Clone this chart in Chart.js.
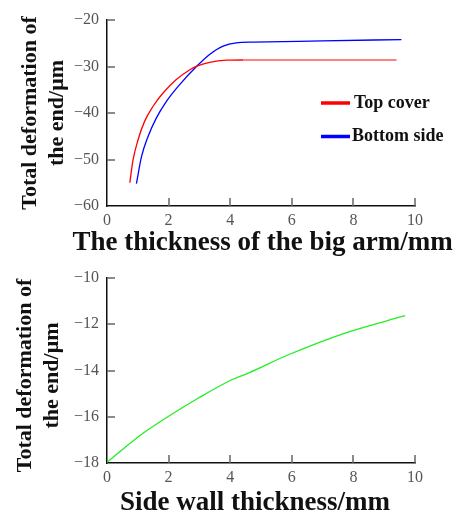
<!DOCTYPE html>
<html>
<head>
<meta charset="utf-8">
<script src="https://cdn.jsdelivr.net/npm/chart.js@4"></script>
<style>
  html, body { margin: 0; padding: 0; background: #fff; }
  #wrap { position: relative; width: 461px; height: 516px; }
  #top { position: absolute; left: 0; top: 0; }
  #bottom { position: absolute; left: 0; top: 250px; }
</style>
</head>
<body>
<div id="wrap">
  <canvas id="top" width="461" height="262"></canvas>
  <canvas id="bottom" width="461" height="266"></canvas>
</div>
<script>
// top chart - big arm thickness
const topCoverX = [0.74, 0.845, 1.006, 1.22, 1.49, 1.82, 2.25, 2.69, 2.92, 3.33, 3.88, 4.42, 6, 8, 9.4];
const topCoverY = [-55, -50.1, -45.8, -41.8, -38.6, -35.7, -32.8, -30.7, -29.9, -29.1, -28.65, -28.6, -28.6, -28.6, -28.6];
const bottomSideX = [0.955, 1.12, 1.33, 1.6, 1.93, 2.36, 2.92, 3.33, 3.77, 4.2, 4.74, 7, 9.56];
const bottomSideY = [-55.2, -49.4, -45.1, -41.1, -37.5, -33.9, -29.9, -27.4, -25.6, -24.9, -24.75, -24.5, -24.2];
const topYTicks = [-60, -50, -40, -30, -20];

// bottom chart - side wall thickness
const sideWallX = [0.0, 1.03, 2.0, 2.97, 4.05, 4.59, 5.89, 7.73, 9.68];
const sideWallY = [-17.97, -16.85, -15.98, -15.19, -14.4, -14.11, -13.32, -12.38, -11.63];
const bottomYTicks = [-18, -16, -14, -12, -10];

const xTicks = [0, 2, 4, 6, 8, 10];

function pts(xs, ys) {
    return xs.map((x, i) => ({x: x, y: ys[i]}));
}

const serif = "'Liberation Serif', 'Times New Roman', serif";

// ticks drawn inside the plot area
const innerTicks = {
    id: "innerTicks",
    afterDraw(chart) {
        const ctx = chart.ctx;
        const a = chart.chartArea;
        const xs = chart.scales.x, ys = chart.scales.y;
        ctx.save();
        ctx.strokeStyle = "#666";
        ctx.lineWidth = 1.5;
        ctx.beginPath();
        xs.ticks.forEach(t => {
            if (t.value === xs.min) return;
            const px = Math.round(xs.getPixelForValue(t.value));
            ctx.moveTo(px, a.bottom);
            ctx.lineTo(px, a.bottom - 8);
        });
        ys.ticks.forEach(t => {
            if (t.value === ys.min) return;
            const py = Math.round(ys.getPixelForValue(t.value));
            ctx.moveTo(a.left, py);
            ctx.lineTo(a.left + 8, py);
        });
        ctx.stroke();
        ctx.restore();
    }
};

// axis titles, placed like in the original figure
const axisTitles = {
    id: "axisTitles",
    afterDraw(chart) {
        const o = chart.options.plugins.axisTitles;
        const ctx = chart.ctx;
        const a = chart.chartArea;
        ctx.save();
        ctx.fillStyle = "#111";
        ctx.textAlign = "center";
        // x title
        ctx.font = "bold 27px " + serif;
        ctx.textBaseline = "alphabetic";
        ctx.fillText(o.xText, (a.left + a.right) / 2 + o.xShift, o.xBase);
        // y title, two lines
        ctx.font = "bold 22px " + serif;
        ctx.textBaseline = "middle";
        const cy = (a.top + a.bottom) / 2 + o.yShift;
        o.yText.forEach((line, i) => {
            ctx.save();
            ctx.translate(o.yCols[i], cy);
            ctx.rotate(-Math.PI / 2);
            ctx.fillText(line, 0, 0);
            ctx.restore();
        });
        ctx.restore();
    }
};

// legend like the original: short thick line and bold text
const boxLegend = {
    id: "boxLegend",
    afterDraw(chart) {
        const opts = chart.options.plugins.boxLegend;
        if (!opts || !opts.show) return;
        const ctx = chart.ctx;
        const a = chart.chartArea;
        ctx.save();
        ctx.font = "bold 18px " + serif;
        ctx.textBaseline = "middle";
        chart.data.datasets.forEach((ds, i) => {
            const y = a.top + 83 + i * 33.5;
            const x = a.left + 214;
            ctx.strokeStyle = ds.borderColor;
            ctx.lineWidth = 3.5;
            ctx.beginPath();
            ctx.moveTo(x, y);
            ctx.lineTo(x + 29, y);
            ctx.stroke();
            ctx.fillStyle = "#111";
            ctx.fillText(ds.label, x + 33 - i * 2, y);
        });
        ctx.restore();
    }
};

const yTitle = ["Total deformation of", "the end/\u03bcm"];

function makeOptions(yMin, yMax, yTicks, xHeight, padTop, titles, showLegend) {
    return {
        responsive: false,
        animation: false,
        layout: { padding: { top: padTop, right: 46, left: 0, bottom: 0 } },
        plugins: {
            legend: { display: false },
            tooltip: { enabled: false },
            boxLegend: { show: showLegend },
            axisTitles: titles
        },
        scales: {
            x: {
                type: "linear",
                min: 0,
                max: 10,
                grid: { color: "rgba(0,0,0,0)", drawTicks: false },
                border: { display: true, color: "#111", width: 1.5 },
                afterBuildTicks(scale) {
                    scale.ticks = xTicks.map(v => ({value: v}));
                },
                afterFit(scale) { scale.height = xHeight; },
                ticks: {
                    padding: 5,
                    color: "#555",
                    font: { family: serif, size: 16 }
                }
            },
            y: {
                type: "linear",
                min: yMin,
                max: yMax,
                grid: { color: "rgba(0,0,0,0)", drawTicks: false },
                border: { display: true, color: "#111", width: 1.5 },
                afterBuildTicks(scale) {
                    scale.ticks = yTicks.map(v => ({value: v}));
                },
                afterFit(scale) { scale.width = 107; },
                ticks: {
                    padding: 8,
                    color: "#555",
                    font: { family: serif, size: 16 },
                    callback: v => String(v).replace("-", "\u2212")
                }
            }
        }
    };
}

new Chart(document.getElementById("top").getContext("2d"), {
    type: "line",
    data: {
        datasets: [{
            label: "Top cover",
            data: pts(topCoverX, topCoverY),
            borderColor: "#ff0000",
            borderWidth: 1.3,
            pointRadius: 0,
            cubicInterpolationMode: "monotone",
            segment: {
                borderColor: c => c.p0.parsed.x >= 4.4 ? "#ff8080" : undefined,
                borderWidth: c => c.p0.parsed.x >= 4.4 ? 2 : undefined
            }
        }, {
            label: "Bottom side",
            data: pts(bottomSideX, bottomSideY),
            borderColor: "#0000ff",
            borderWidth: 1.3,
            pointRadius: 0,
            cubicInterpolationMode: "monotone"
        }]
    },
    options: makeOptions(-60, -20, topYTicks, 56, 20, {
        xText: "The thickness of the big arm/mm", xShift: 1.5, xBase: 250,
        yText: yTitle, yCols: [30, 57], yShift: 0
    }, true),
    plugins: [innerTicks, boxLegend, axisTitles]
});

new Chart(document.getElementById("bottom").getContext("2d"), {
    type: "line",
    data: {
        datasets: [{
            label: "Side wall",
            data: pts(sideWallX, sideWallY),
            borderColor: "#22ee22",
            borderWidth: 1.3,
            pointRadius: 0,
            cubicInterpolationMode: "monotone"
        }]
    },
    options: makeOptions(-18, -10, bottomYTicks, 53, 28, {
        xText: "Side wall thickness/mm", xShift: -6, xBase: 260,
        yText: yTitle, yCols: [25, 52], yShift: 5
    }, false),
    plugins: [innerTicks, axisTitles]
});
</script>
</body>
</html>
